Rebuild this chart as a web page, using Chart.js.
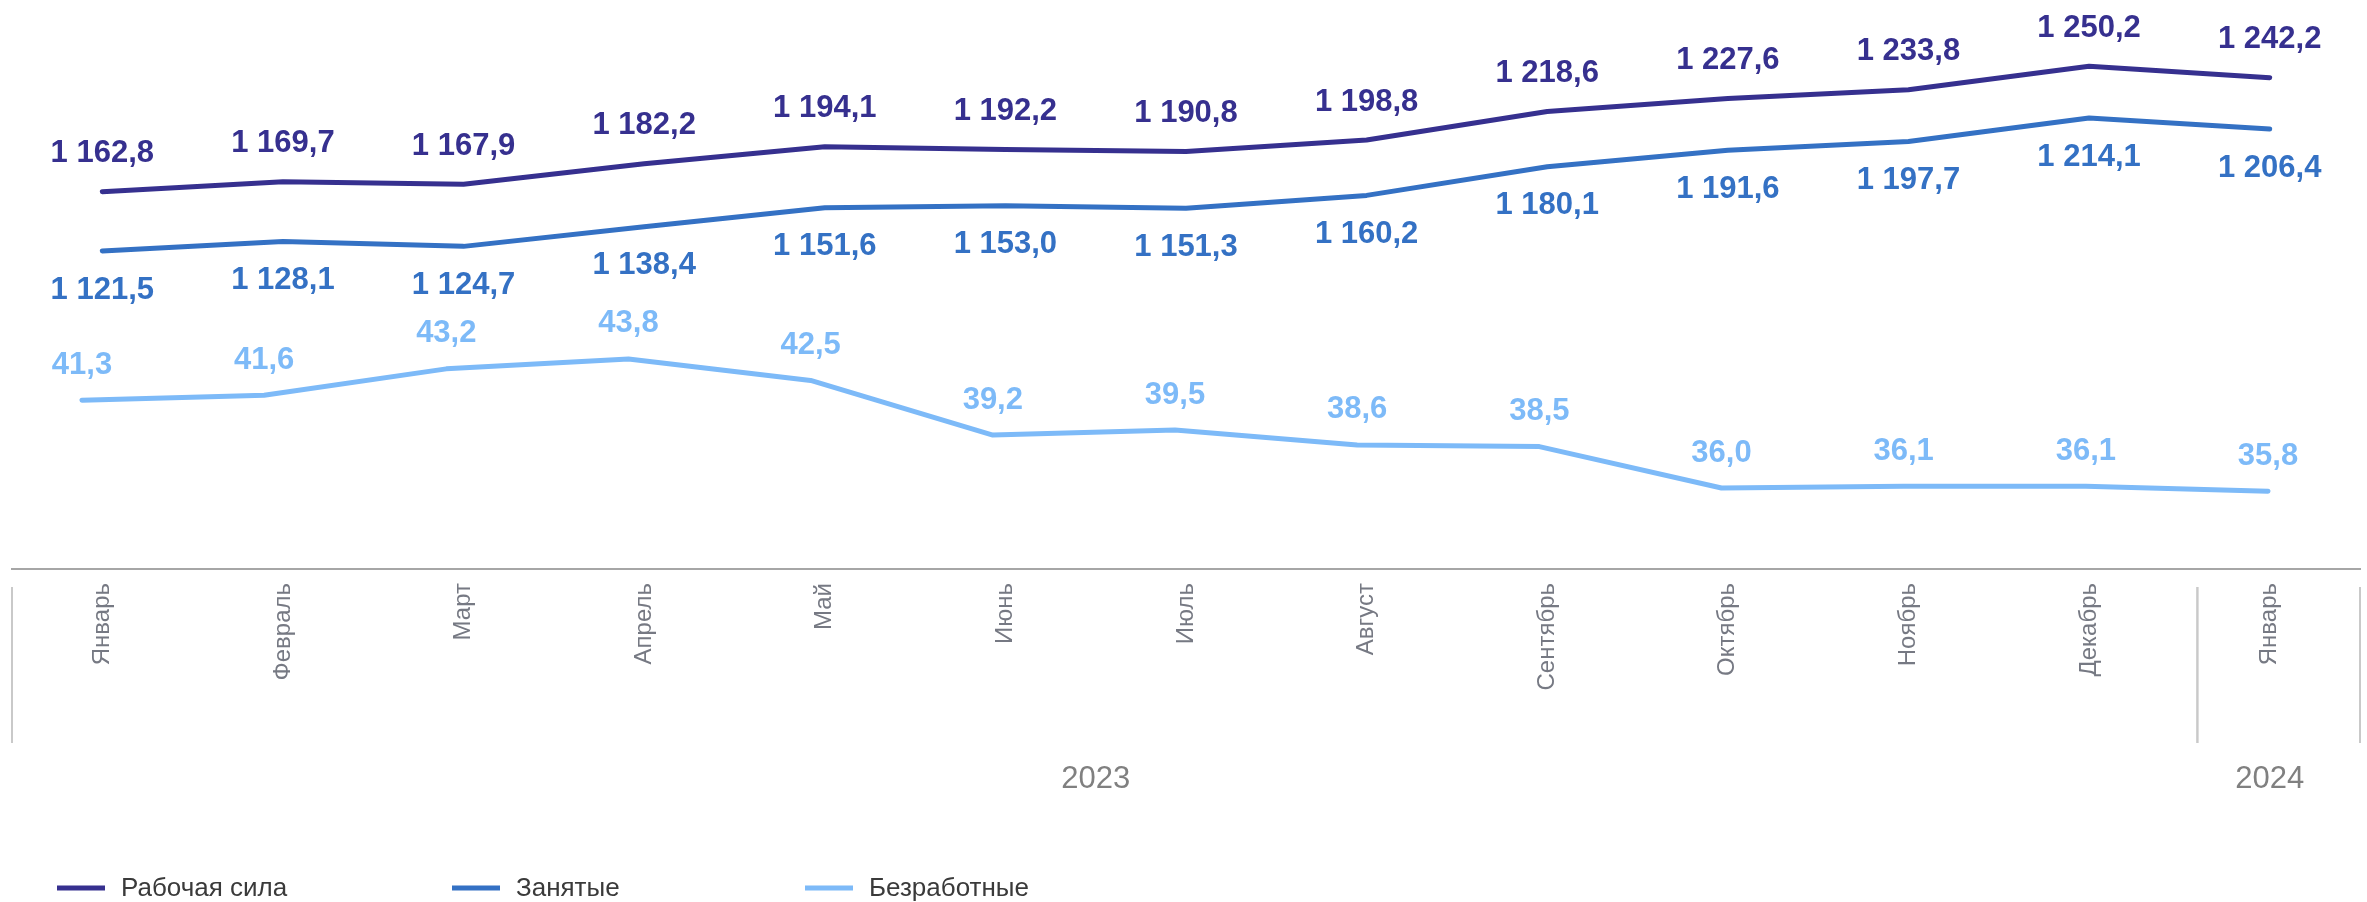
<!DOCTYPE html>
<html lang="ru">
<head>
<meta charset="utf-8">
<title>Рабочая сила, занятые и безработные</title>
<script src="https://cdn.jsdelivr.net/npm/chart.js@4/dist/chart.umd.min.js"></script>
<style>
  html, body { margin: 0; padding: 0; background: #fff; }
  #wrap { width: 2367px; height: 902px; }
</style>
</head>
<body>
<div id="wrap"><canvas id="laborChart" width="2367" height="902"></canvas></div>
<script>
const months = ['Январь', 'Февраль', 'Март', 'Апрель', 'Май', 'Июнь', 'Июль', 'Август', 'Сентябрь', 'Октябрь', 'Ноябрь', 'Декабрь', 'Январь'];
const laborForce = [1162.8, 1169.7, 1167.9, 1182.2, 1194.1, 1192.2, 1190.8, 1198.8, 1218.6, 1227.6, 1233.8, 1250.2, 1242.2];
const employed = [1121.5, 1128.1, 1124.7, 1138.4, 1151.6, 1153.0, 1151.3, 1160.2, 1180.1, 1191.6, 1197.7, 1214.1, 1206.4];
const unemployed = [41.3, 41.6, 43.2, 43.8, 42.5, 39.2, 39.5, 38.6, 38.5, 36.0, 36.1, 36.1, 35.8];
const years = ['2023', '2024'];
const yearSpans = [12, 1];

const FONT = '"Liberation Sans", Arial, sans-serif';

function fmt(v) {
    const parts = v.toFixed(1).split('.');
    return parts[0].replace(/\B(?=(\d{3})+(?!\d))/g, ' ') + ',' + parts[1];
}

// value labels above / below each line
const valueLabels = {
    id: 'valueLabels',
    afterDatasetsDraw(chart) {
        const ctx = chart.ctx;
        chart.data.datasets.forEach((ds, di) => {
            const meta = chart.getDatasetMeta(di);
            ctx.save();
            ctx.font = 'bold 31px ' + FONT;
            ctx.fillStyle = ds.borderColor;
            ctx.textAlign = 'center';
            ctx.textBaseline = 'middle';
            meta.data.forEach((pt, i) => {
                ctx.fillText(fmt(ds.values[i]), pt.x, pt.y + ds.labelOffset);
            });
            ctx.restore();
        });
    }
};

// year grouping under the month labels
const yearGroups = {
    id: 'yearGroups',
    afterDraw(chart) {
        const ctx = chart.ctx;
        const x = chart.scales.x;
        const band = x.width / months.length;
        let start = 0;
        ctx.save();
        ctx.strokeStyle = '#c9c9c9';
        ctx.lineWidth = 2;
        ctx.fillStyle = '#808080';
        ctx.font = '31px ' + FONT;
        ctx.textAlign = 'center';
        ctx.textBaseline = 'middle';
        yearSpans.forEach((n, k) => {
            const left = x.left + start * band;
            const right = left + n * band;
            // the inner divider sits a bit right of the band edge, like the source
            const lx = start === 0 ? left : left + 18;
            const rx = start + n === months.length ? right : right + 18;
            [lx, rx].forEach(px => {
                ctx.beginPath();
                ctx.moveTo(px, 587);
                ctx.lineTo(px, 743);
                ctx.stroke();
            });
            ctx.fillText(years[k], (left + right) / 2, 779);
            start += n;
        });
        ctx.restore();
    }
};

// legend in fixed columns along the bottom
const bottomLegend = {
    id: 'bottomLegend',
    afterDraw(chart) {
        const ctx = chart.ctx;
        const cols = [57, 452, 805];
        ctx.save();
        ctx.font = '26px ' + FONT;
        ctx.textBaseline = 'middle';
        chart.data.datasets.forEach((ds, i) => {
            ctx.strokeStyle = ds.borderColor;
            ctx.lineWidth = 5;
            ctx.beginPath();
            ctx.moveTo(cols[i], 888);
            ctx.lineTo(cols[i] + 48, 888);
            ctx.stroke();
            ctx.fillStyle = '#3a3a3a';
            ctx.fillText(ds.label, cols[i] + 64, 889);
        });
        ctx.restore();
    }
};

const ctx = document.getElementById('laborChart').getContext('2d');

new Chart(ctx, {
    type: 'line',
    data: {
        labels: months,
        datasets: [{
            label: 'Рабочая сила',
            data: laborForce,
            values: laborForce,
            labelOffset: -38,
            borderColor: '#36308f',
            yAxisID: 'y',
            xAxisID: 'x'
        },
        {
            label: 'Занятые',
            data: employed,
            values: employed,
            labelOffset: 39,
            borderColor: '#3471c4',
            yAxisID: 'y',
            xAxisID: 'x'
        },
        {
            label: 'Безработные',
            data: unemployed.map((v, i) => ({ x: i, y: v })),
            values: unemployed,
            labelOffset: -35,
            borderColor: '#7dbaf8',
            yAxisID: 'y2',
            xAxisID: 'x2'
        }]
    },
    options: {
        responsive: false,
        animation: false,
        devicePixelRatio: 1,
        layout: { padding: { top: 5, left: 12, right: 7, bottom: 0 } },
        elements: {
            line: { borderWidth: 5, tension: 0, borderCapStyle: 'round', borderJoinStyle: 'round', fill: false },
            point: { radius: 0, hoverRadius: 0 }
        },
        scales: {
            x: {
                type: 'category',
                offset: true,
                grid: { display: false, drawTicks: false },
                border: { display: true, color: '#a6a6a6', width: 2 },
                ticks: {
                    autoSkip: false,
                    minRotation: 90,
                    maxRotation: 90,
                    padding: 14,
                    color: '#767983',
                    font: { family: FONT, size: 24 }
                },
                afterFit(scale) { scale.height = 333; }
            },
            x2: {
                type: 'linear',
                display: false,
                min: -0.384,
                max: 12.505
            },
            y: {
                display: false,
                min: 900,
                max: 1292.8
            },
            y2: {
                display: false,
                min: 31.1,
                max: 65.2
            }
        },
        plugins: {
            legend: { display: false },
            tooltip: { enabled: false }
        }
    },
    plugins: [valueLabels, yearGroups, bottomLegend]
});
</script>
</body>
</html>
